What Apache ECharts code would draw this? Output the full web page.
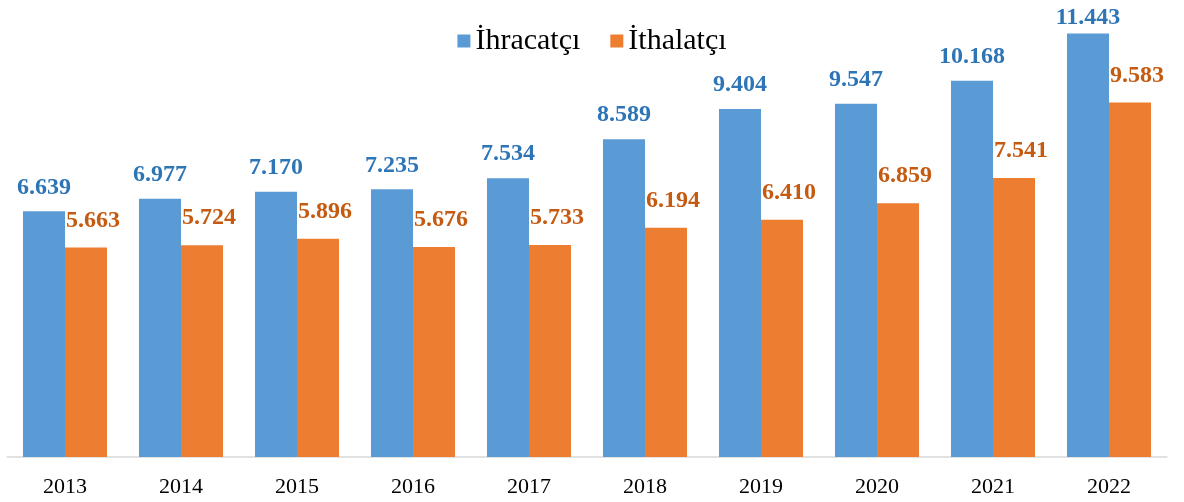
<!DOCTYPE html>
<html>
<head>
<meta charset="utf-8">
<script src="https://cdn.jsdelivr.net/npm/echarts@6/dist/echarts.min.js"></script>
<style>
html,body{margin:0;padding:0;background:#fff;}
#chart{width:1184px;height:502px;}
</style>
</head>
<body>
<div id="chart"></div>
<script>
var years = ['2013','2014','2015','2016','2017','2018','2019','2020','2021','2022'];
var ihracatci = [6.639, 6.977, 7.170, 7.235, 7.534, 8.589, 9.404, 9.547, 10.168, 11.443];
var ithalatci = [5.663, 5.724, 5.896, 5.676, 5.733, 6.194, 6.410, 6.859, 7.541, 9.583];

var serif = '"Liberation Serif", "Times New Roman", serif';

// 1.234 seklinde uc haneli gosterim
function fmt(p){
	return p.value.toFixed(3);
}

// son cubugun etiketi ust kenara sigsin diye daha yakin
var ihrData = ihracatci.map(function(v, i){
	if(i == ihracatci.length - 1){
		return { value: v, label: { distance: 4 } };
	}
	return v;
});

var myChart = echarts.init(document.getElementById('chart'));
var option = {
	animation: false,
	textStyle: { fontFamily: serif },
	legend: {
		data: ['İhracatçı', 'İthalatçı'],
		top: 21,
		left: 'center',
		itemWidth: 13,
		itemHeight: 13,
		itemGap: 30,
		icon: 'rect',
		textStyle: {
			fontFamily: serif,
			fontSize: 30,
			color: '#000'
		}
	},
	grid: {
		left: 7,
		right: 17,
		top: 13,
		bottom: 45
	},
	xAxis: {
		type: 'category',
		data: years,
		axisTick: { show: false },
		axisLine: { lineStyle: { color: '#d9d9d9', width: 1.5 } },
		axisLabel: {
			fontFamily: serif,
			fontSize: 22,
			color: '#000',
			margin: 19
		}
	},
	yAxis: {
		type: 'value',
		min: 0,
		max: 12,
		show: false,
		splitLine: { show: false }
	},
	series: [
		{
			name: 'İhracatçı',
			type: 'bar',
			data: ihrData,
			barWidth: 42,
			barGap: '0%',
			itemStyle: { color: '#5b9bd5' },
			label: {
				show: true,
				position: 'top',
				distance: 12,
				formatter: fmt,
				fontFamily: serif,
				fontSize: 24,
				fontWeight: 'bold',
				color: '#2e75b6'
			}
		},
		{
			name: 'İthalatçı',
			type: 'bar',
			data: ithalatci,
			barWidth: 42,
			itemStyle: { color: '#ed7d31' },
			label: {
				show: true,
				position: 'top',
				distance: 15,
				offset: [7, 0],
				formatter: fmt,
				fontFamily: serif,
				fontSize: 24,
				fontWeight: 'bold',
				color: '#c55a11'
			}
		}
	]
};
myChart.setOption(option);
</script>
</body>
</html>
